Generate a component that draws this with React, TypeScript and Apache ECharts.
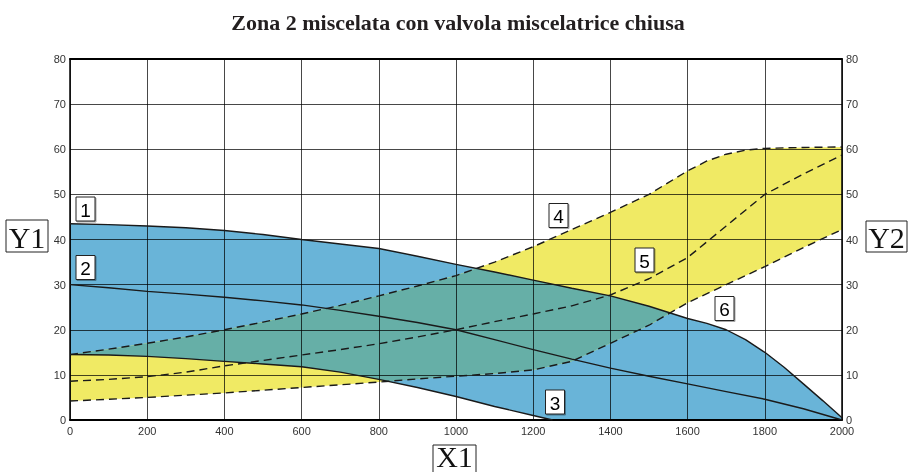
import React, { useEffect, useRef } from "react";
import * as echarts from "echarts";

// X1 axis (flow) sample positions
const X = [0, 100, 200, 300, 400, 500, 600, 700, 800, 900, 1000, 1100, 1200, 1300, 1400, 1500, 1600, 1700, 1800, 1900, 2000];
// Curve 1: upper boundary of blue area (denser where it bends)
const X1c = [0, 100, 200, 300, 400, 500, 600, 700, 800, 900, 1000, 1100, 1200, 1300, 1400, 1500, 1600, 1650, 1700, 1750, 1800, 1850, 1900, 1950, 2000];
const curve1 = [43.5, 43.3, 43, 42.6, 42, 41.1, 40, 39, 38, 36.3, 34.5, 32.8, 31, 29.2, 27.5, 25.2, 22.5, 21.4, 20, 17.8, 15, 11.7, 8, 4.3, 0.5];
// Curve 2: middle solid line
const curve2 = [30, 29.3, 28.5, 27.9, 27.2, 26.4, 25.5, 24.3, 23, 21.6, 20, 17.8, 15.6, 13.5, 11.5, 9.7, 8, 6.3, 4.6, 2.5, 0];
// Curve 3: lower boundary of blue area
const X3 = [0, 100, 200, 300, 400, 500, 600, 700, 800, 900, 1000, 1100, 1200, 1250];
const curve3 = [14.5, 14.4, 14.1, 13.6, 13, 12.4, 11.8, 10.6, 9, 7.2, 5.2, 3, 1, 0];
// Curve 4: upper dashed (yellow top)
const X4 = [0, 100, 200, 300, 400, 500, 600, 700, 800, 900, 1000, 1100, 1200, 1300, 1400, 1500, 1550, 1600, 1650, 1700, 1750, 1800, 1900, 2000];
const curve4 = [14.5, 15.7, 17, 18.4, 20, 21.7, 23.5, 25.4, 27.5, 29.7, 32, 35, 38.4, 42.2, 46, 50, 52.6, 55.2, 57.4, 58.9, 59.8, 60.2, 60.4, 60.5];
// Curve 5: middle dashed
const curve5 = [8.6, 9, 9.6, 10.6, 12, 13.2, 14.4, 15.6, 16.9, 18.4, 20, 21.8, 23.5, 25.3, 27.7, 31.3, 36, 43, 50, 54.5, 58.7];
// Curve 6: lower dashed (yellow bottom)
const curve6 = [4.2, 4.6, 5, 5.5, 6, 6.6, 7.2, 7.8, 8.4, 9.1, 9.7, 10.3, 11.1, 13, 17, 21, 26, 30, 34, 38.2, 42.2];

const Y_TICKS = [0, 10, 20, 30, 40, 50, 60, 70, 80];
const X_TICKS = [0, 200, 400, 600, 800, 1000, 1200, 1400, 1600, 1800, 2000];

const BLUE = "#69b4d8";
const YELLOW = "#f0ea64";
const TEAL = "#66afa7";

function interp(xs: number[], ys: number[], x: number): number | null {
  if (x < xs[0] || x > xs[xs.length - 1]) return null;
  for (let i = 0; i < xs.length - 1; i++) {
    if (x >= xs[i] && x <= xs[i + 1]) {
      const t = (x - xs[i]) / (xs[i + 1] - xs[i]);
      return ys[i] + t * (ys[i + 1] - ys[i]);
    }
  }
  return ys[ys.length - 1];
}

const pairs = (xs: number[], ys: number[]) => xs.map((x, i) => [x, ys[i]]);

function lower3(x: number): number {
  const v = interp(X3, curve3, x);
  return v === null ? 0 : v;
}

function buildPolys() {
  const blue: number[][] = [...pairs(X1c, curve1), [2000, 0], ...pairs(X3, curve3).reverse()];
  const yellow: number[][] = [...pairs(X4, curve4), ...pairs(X, curve6).reverse()];
  const top: number[][] = [];
  const bot: number[][] = [];
  for (let x = 0; x <= 2000; x += 5) {
    const hi = Math.min(interp(X1c, curve1, x) as number, interp(X4, curve4, x) as number);
    const lo = Math.max(lower3(x), interp(X, curve6, x) as number);
    if (hi >= lo) {
      top.push([x, hi]);
      bot.push([x, lo]);
    }
  }
  const overlap = [...top, ...bot.reverse()];
  return { blue, yellow, overlap };
}

export default function App() {
  const ref = useRef<HTMLDivElement>(null);
  useEffect(() => {
    if (!ref.current) return;
    const chart = echarts.init(ref.current, null, { renderer: "svg" });
    const polys = buildPolys();
    const labelFont = "Liberation Sans, Arial, sans-serif";
    const serif = "Liberation Serif, Times New Roman, serif";
    const axisLabel = { fontSize: 11, color: "#333", fontFamily: labelFont, formatter: (v: number) => String(v) };
    const solid = { color: "#1a1a1a", width: 1.4 };
    const dashed = { color: "#1a1a1a", width: 1.4, type: [8, 5] as any };

    const numBox = (txt: string, cx: number, cy: number) => [
      { type: "rect", z: 20, shape: { x: cx - 9.5, y: cy - 12, width: 19, height: 24 }, style: { fill: "#fff", stroke: "#222", lineWidth: 1, shadowColor: "rgba(0,0,0,0.35)", shadowOffsetX: 1, shadowOffsetY: 1, shadowBlur: 1 } },
      { type: "text", z: 21, x: cx, y: cy + 1, style: { text: txt, fontSize: 19, fontFamily: labelFont, fill: "#000", align: "center", verticalAlign: "middle" } },
    ];
    const axisBox = (txt: string, x: number, y: number, w: number, h: number, ty: number) => [
      { type: "rect", z: 20, shape: { x, y, width: w, height: h }, style: { fill: "#fff", stroke: "#222", lineWidth: 1 } },
      { type: "text", z: 21, x: x + w / 2, y: ty, style: { text: txt, fontSize: 30, fontFamily: serif, fill: "#111", align: "center", verticalAlign: "middle" } },
    ];

    chart.setOption({
      animation: false,
      grid: { left: 70, right: 66, top: 59, bottom: 52, containLabel: false },
      xAxis: [
        {
          type: "value", min: X_TICKS[0], max: X_TICKS[X_TICKS.length - 1], interval: X_TICKS[1] - X_TICKS[0], position: "bottom", z: 3,
          axisLine: { show: true, onZero: false, lineStyle: { color: "#000", width: 2 } },
          axisTick: { show: false },
          axisLabel: { ...axisLabel, margin: 5 },
          splitLine: { show: true, lineStyle: { color: "rgba(0,0,0,0.72)", width: 1 } },
        },
        {
          type: "value", min: X_TICKS[0], max: X_TICKS[X_TICKS.length - 1], position: "top", z: 3,
          axisLine: { show: true, onZero: false, lineStyle: { color: "#000", width: 2 } },
          axisTick: { show: false }, axisLabel: { show: false }, splitLine: { show: false },
        },
      ],
      yAxis: [
        {
          type: "value", min: Y_TICKS[0], max: Y_TICKS[Y_TICKS.length - 1], interval: Y_TICKS[1] - Y_TICKS[0], position: "left", z: 3,
          axisLine: { show: true, onZero: false, lineStyle: { color: "#000", width: 1.5 } },
          axisTick: { show: false },
          axisLabel: { ...axisLabel, margin: 4 },
          splitLine: { show: true, lineStyle: { color: "rgba(0,0,0,0.72)", width: 1 } },
        },
        {
          type: "value", min: Y_TICKS[0], max: Y_TICKS[Y_TICKS.length - 1], interval: Y_TICKS[1] - Y_TICKS[0], position: "right", z: 3,
          axisLine: { show: true, onZero: false, lineStyle: { color: "#000", width: 1.5 } },
          axisTick: { show: false },
          axisLabel: { ...axisLabel, margin: 4 },
          splitLine: { show: false },
        },
      ],
      series: [
        {
          type: "custom", z: 1, silent: true, xAxisIndex: 0, yAxisIndex: 0,
          data: [[0, 0]],
          renderItem: (_params: any, api: any) => {
            const pts = (arr: number[][]) => arr.map((p) => api.coord(p));
            return {
              type: "group",
              children: [
                { type: "polygon", shape: { points: pts(polys.blue) }, style: { fill: BLUE } },
                { type: "polygon", shape: { points: pts(polys.yellow) }, style: { fill: YELLOW } },
                { type: "polygon", shape: { points: pts(polys.overlap) }, style: { fill: TEAL } },
              ],
            };
          },
        },
        { type: "line", z: 5, data: pairs(X1c, curve1), symbol: "none", lineStyle: solid, silent: true },
        { type: "line", z: 5, data: pairs(X, curve2), symbol: "none", lineStyle: solid, silent: true },
        { type: "line", z: 5, data: pairs(X3, curve3), symbol: "none", lineStyle: solid, silent: true },
        { type: "line", z: 5, data: pairs(X4, curve4), symbol: "none", lineStyle: dashed, silent: true },
        { type: "line", z: 5, data: pairs(X, curve5), symbol: "none", lineStyle: dashed, silent: true },
        { type: "line", z: 5, data: pairs(X, curve6), symbol: "none", lineStyle: dashed, silent: true },
      ],
      graphic: [
        { type: "text", x: 458, y: 22, z: 20, style: { text: "Zona 2 miscelata con valvola miscelatrice chiusa", fontSize: 22, fontWeight: "bold", fontFamily: serif, fill: "#231f20", align: "center", verticalAlign: "middle" } },
        ...axisBox("Y1", 6, 220, 42, 32, 237),
        ...axisBox("Y2", 866, 221, 41, 31, 237),
        ...axisBox("X1", 433, 445, 43, 32, 456),
        ...numBox("1", 85.5, 209),
        ...numBox("2", 85.5, 267.5),
        ...numBox("3", 555, 402),
        ...numBox("4", 558.5, 215.5),
        ...numBox("5", 644.5, 260),
        ...numBox("6", 724.5, 308.5),
      ],
    });
    return () => chart.dispose();
  }, []);
  return <div ref={ref} style={{ position: "fixed", left: 0, top: 0, width: 908, height: 472 }} />;
}
